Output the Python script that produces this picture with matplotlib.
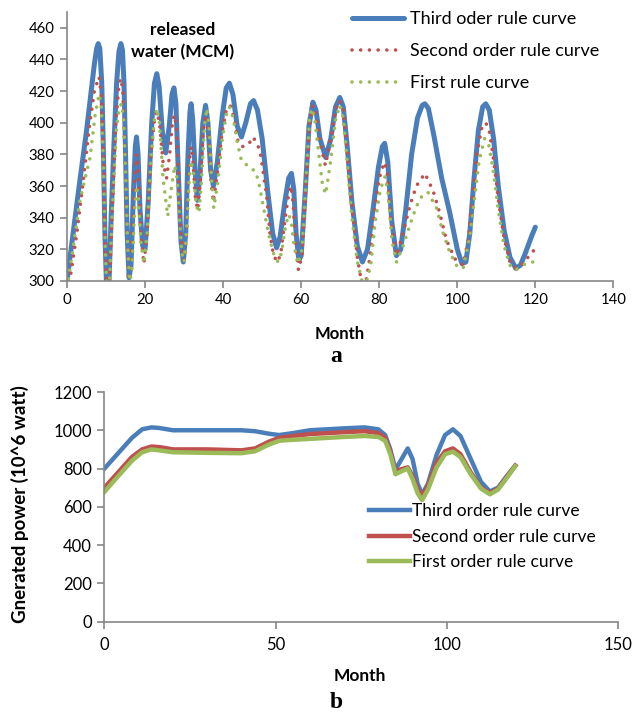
""" Released water and generated power under three rule curves. """
import matplotlib
matplotlib.use('Agg')
import matplotlib.pyplot as plt

# --- (a) released water (MCM) ---
third_m = [0, 3, 5, 7, 7.6, 8, 8.4, 8.9, 9.3, 9.7, 10.2, 10.7, 11.3, 12, 12.7, 13.3, 13.8, 14.2,
           14.6, 15, 15.4, 15.9, 16.4, 17, 17.5, 17.8, 18.2, 18.7, 19.4, 20, 20.8, 21.7, 22.4,
           23, 23.6, 24.4, 25.3, 26.2, 26.9, 27.4, 27.9, 28.5, 29.2, 29.8, 30.4, 31, 31.5, 31.8,
           32.2, 32.8, 33.4, 34, 34.8, 35.5, 36.1, 36.8, 37.5, 38.5, 39.8, 40.8, 41.6, 42.5,
           43.6, 44.7, 45.8, 47, 47.8, 48.8, 50, 51.5, 52.7, 53.7, 54.6, 55.8, 56.8, 57.5, 58.1,
           58.7, 59.4, 60, 61, 62, 63, 63.8, 64.8, 66.3, 67.6, 68.8, 69.9, 70.8, 71.8, 73, 74.4,
           75.7, 77, 78.4, 79.8, 80.8, 81.4, 82.2, 83.2, 84.4, 85.5, 86.8, 88.3, 89.8, 91, 91.7,
           92.6, 94, 96, 98, 100, 101.2, 102.2, 103.2, 104.3, 105.4, 106.5, 107.3, 108.2, 109.3,
           110.5, 112, 113.5, 115, 116.2, 117.5, 119, 120]
third_v = [300, 358, 395, 437, 447, 450, 447, 425, 385, 330, 290, 295, 340, 385, 425, 445, 450, 446,
           425, 380, 330, 302, 310, 355, 385, 391, 380, 345, 322, 320, 350, 400, 425,
           431, 423, 395, 381, 398, 418, 422, 412, 370, 325, 312, 330, 380, 407, 412,
           402, 370, 351, 365, 400, 411, 400, 370, 360, 375, 405, 422, 425, 418,
           398, 391, 400, 412, 414, 408, 390, 355, 330, 321, 328, 350, 365, 368, 358,
           330, 313, 316, 355, 398, 413, 408, 390, 378, 390, 410, 416, 410, 385, 350, 322,
           312, 320, 345, 372, 385, 387, 375, 338, 316, 320, 345, 380, 403, 411, 412,
           409, 392, 365, 344, 320, 311, 312, 330, 365, 395, 410, 412, 408, 390,
           360, 332, 315, 308, 310, 318, 328, 334]

second_m = [0, 1, 2.5, 4, 5.7, 7, 8.2, 8.8, 9.3, 9.8, 10.3, 10.9, 11.5, 12.5, 13.3, 13.8, 14.3,
            14.8, 15.3, 15.8, 16.4, 17.2, 17.8, 18.3, 18.9, 19.7, 20.5, 21.5, 22.4, 23, 23.7,
            24.6, 25.5, 26.3, 27, 27.5, 28, 28.6, 29.3, 30, 30.6, 31.3, 31.8, 32.3, 32.9, 33.5,
            34.2, 35, 35.6, 36.2, 36.9, 37.5, 38.5, 39.8, 40.8, 41.8, 42.8, 43.9, 45, 46.4, 47.7,
            49.4, 51.1, 52, 52.8, 53.7, 54.7, 55.8, 56.8, 57.4, 57.9, 58.6, 59.3, 60.2, 61.2,
            62.2, 63, 63.8, 64.8, 66.2, 67.6, 68.8, 69.8, 70.8, 71.8, 73, 74.4, 75.4, 76.5,
            77.6, 78.8, 80, 81.3, 82, 82.9, 84.4, 86.1, 87.8, 89.5, 91.7, 93.8, 95.5, 97.2,
            99.4, 101.5, 102.8, 103.8, 105, 106.3, 107.3, 108.2, 109.4, 110.6, 112, 113.5, 115,
            116, 117.5, 119, 120]
second_v = [300, 305, 330, 360, 397, 420, 429, 418, 380, 320, 290, 300, 340, 400, 424, 428, 420,
            385, 335, 303, 312, 360, 380, 370, 330, 311, 330, 380, 402, 407, 400,
            375, 365, 380, 400, 405, 398, 365, 325, 313, 330, 375, 385, 375, 352, 345,
            365, 398, 405, 395, 363, 350, 368, 395, 408, 411, 403, 387, 385, 386, 391,
            383, 355, 330, 318, 312, 316, 338, 355, 360, 350, 322, 307, 316, 360,
            400, 411, 405, 388, 373, 390, 408, 414, 409, 383, 348, 315, 300, 298,
            315, 345, 365, 375, 370, 340, 316, 330, 347, 360, 368, 357, 343, 326,
            314, 310, 326, 350, 380, 397, 400, 395, 375, 350, 327, 312, 308,
            309, 313, 318, 320]

first_m = [0, 1.5, 3.3, 5.9, 7.2, 8.2, 8.8, 9.3, 9.8, 10.3, 10.9, 11.6, 12.6, 13.4, 14, 14.5, 15,
           15.5, 16, 16.6, 17.3, 17.8, 18.3, 18.9, 19.7, 20.5, 21.5, 22.4, 23, 23.7, 24.6, 25.8,
           26.7, 27.6, 28.2, 28.8, 29.4, 30, 30.7, 31.3, 31.8, 32.4, 33.1, 33.8, 34.5, 35.2,
           35.8, 36.4, 37, 37.6, 38.6, 39.8, 40.8, 41.6, 42.6, 43.6, 44.7, 46.7, 48.4, 49.4,
           50.3, 51.3, 52.4, 53.2, 54.1, 55, 56, 56.8, 57.4, 58.2, 59.2, 60.2, 61.2, 62.2, 62.8,
           63.6, 64.6, 65.5, 66.3, 67.5, 68.8, 69.9, 70.8, 71.8, 73, 74.4, 75.6, 76.7, 77.8, 79,
           80.3, 81.5, 82.3, 83.3, 84.4, 86.1, 87.8, 89.5, 91, 92.5, 94.7, 96.4, 98.1, 100,
           101.5, 103.2, 104.3, 105.6, 107, 108, 109.2, 110.5, 112, 113.5, 115, 116.2, 117.5,
           119, 120]
first_v = [296, 320, 351, 378, 405, 418, 410, 375, 320, 290, 300, 345, 395, 410, 412, 402, 370,
           325, 300, 305, 345, 360, 352, 325, 311, 330, 378, 402, 409, 400, 365, 341,
           358, 373, 365, 340, 318, 312, 335, 365, 376, 368, 348, 343, 365, 398,
           409, 398, 365, 346, 362, 390, 405, 410, 403, 388, 376, 372, 369, 359,
           347, 334, 322, 315, 312, 318, 335, 342, 338, 322, 311, 320, 362, 405, 409,
           400, 378, 360, 355, 375, 402, 411, 403, 375, 340, 312, 300, 299, 310, 338,
           358, 366, 355, 325, 312, 322, 335, 347, 354, 356, 346, 330, 318, 309,
           308, 328, 350, 376, 390, 387, 370, 345, 322, 310, 307, 309, 311,
           312, 312]

water_yticks = [300, 320, 340, 360, 380, 400, 420, 440, 460]
water_xticks = [0, 20, 40, 60, 80, 100, 120, 140]

# --- (b) generated power (10^6 watt) ---
power_m = [0, 4, 8, 11, 13.7, 16, 20, 30, 40, 44, 48, 51, 55, 60, 70, 76, 80, 82, 83.5, 85,
           86.5, 88.6, 90, 91.5, 92.8, 94.5, 97, 99.5, 101.8, 104, 107, 110, 112.6, 115, 117.5, 120]
third_p = [800, 880, 960, 1005, 1015, 1012, 1000, 1000, 1000, 995, 982, 975, 985, 1000, 1010, 1015,
           1005, 975, 900, 795, 840, 905, 850, 720, 665, 720, 870, 975, 1005, 970, 850, 730,
           680, 700, 760, 815]
second_p = [700, 780, 860, 900, 915, 912, 900, 900, 895, 905, 940, 960, 970, 980, 990, 995,
            985, 960, 890, 783, 795, 806, 760, 690, 655, 710, 830, 890, 905, 875, 780, 700,
            672, 695, 755, 815]
first_p = [678, 760, 840, 885, 900, 895, 885, 882, 880, 890, 925, 945, 950, 955, 965, 970,
           965, 945, 875, 770, 783, 800, 745, 670, 635, 690, 805, 875, 888, 860, 770, 695,
           665, 690, 750, 812]

power_yticks = [0, 200, 400, 600, 800, 1000, 1200]
power_xticks = [0, 50, 100, 150]

BLUE, RED, GREEN = '#4a7ebb', '#c0504d', '#9bbb59'
GREY = '#868686'
plt.rcParams['font.family'] = ['Lato', 'DejaVu Sans']


def style_axes(ax, size):
    """ Excel-like axes: left and bottom spines, outward ticks. """
    for side in ('top', 'right'):
        ax.spines[side].set_visible(False)
    for side in ('left', 'bottom'):
        ax.spines[side].set_color(GREY)
        ax.spines[side].set_linewidth(1.2)
    ax.tick_params(direction='out', length=5, width=1.2, color=GREY,
                   labelsize=size, labelcolor='black', pad=4)


fig = plt.figure(figsize=(6.39, 7.13), dpi=100)

# top chart
ax1 = fig.add_axes([0.1049, 0.6059, 0.855, 0.3773])
ax1.plot(third_m, third_v, color=BLUE, lw=3.6, solid_capstyle='round',
         label='Third oder rule curve')
ax1.plot(second_m, second_v, color=RED, lw=2.6, linestyle=(0, (0.01, 2.4)),
         dash_capstyle='round', label='Second order rule curve')
ax1.plot(first_m, first_v, color=GREEN, lw=2.6, linestyle=(0, (0.01, 2.4)),
         dash_capstyle='round', label='First rule curve')
ax1.set_xlim(0, 140)
ax1.set_ylim(300, 470)
ax1.set_xticks(water_xticks)
ax1.set_yticks(water_yticks)
style_axes(ax1, 10.7)
ax1.text(183 / 639, 1 - 41 / 713, 'released\nwater (MCM)', transform=fig.transFigure,
         ha='center', va='center', fontsize=12.5, fontweight='bold', linespacing=1.45)
ax1.legend(loc='upper left', bbox_to_anchor=(352 / 639, 1 - 11 / 713),
           bbox_transform=fig.transFigure, frameon=False, fontsize=13,
           handlelength=2.9, handletextpad=0.3, labelspacing=0.9,
           borderpad=0, borderaxespad=0)
fig.text(340 / 639, 1 - 334 / 713, 'Month', ha='center', va='center',
         fontsize=12, fontweight='bold')
fig.text(336 / 639, 1 - 357 / 713, 'a', ha='center', va='center', fontsize=17,
         fontweight='bold', family='Liberation Serif')

# bottom chart
ax2 = fig.add_axes([0.1635, 0.1283, 0.8035, 0.3219])
ax2.plot(power_m, third_p, color=BLUE, lw=3.2, label='Third order rule curve')
ax2.plot(power_m, second_p, color=RED, lw=3.2, label='Second order rule curve')
ax2.plot(power_m, first_p, color=GREEN, lw=3.2, label='First order rule curve')
ax2.set_xlim(0, 150)
ax2.set_ylim(0, 1200)
ax2.set_xticks(power_xticks)
ax2.set_yticks(power_yticks)
style_axes(ax2, 12)
ax2.tick_params(axis='x', pad=6)
ax2.legend(loc='upper left', bbox_to_anchor=(369 / 639, 1 - 503 / 713),
           bbox_transform=fig.transFigure, frameon=False, fontsize=12.5,
           handlelength=2.35, handletextpad=0.15, labelspacing=0.56,
           borderpad=0, borderaxespad=0)
fig.text(20 / 639, 1 - 504 / 713, 'Gnerated power (10^6 watt)', rotation=90,
         ha='center', va='center', fontsize=13.5, fontweight='bold')
fig.text(360 / 639, 1 - 676 / 713, 'Month', ha='center', va='center',
         fontsize=12.5, fontweight='bold')
fig.text(336 / 639, 1 - 702 / 713, 'b', ha='center', va='center', fontsize=17,
         fontweight='bold', family='Liberation Serif')

fig.savefig('out.png', dpi=100)
